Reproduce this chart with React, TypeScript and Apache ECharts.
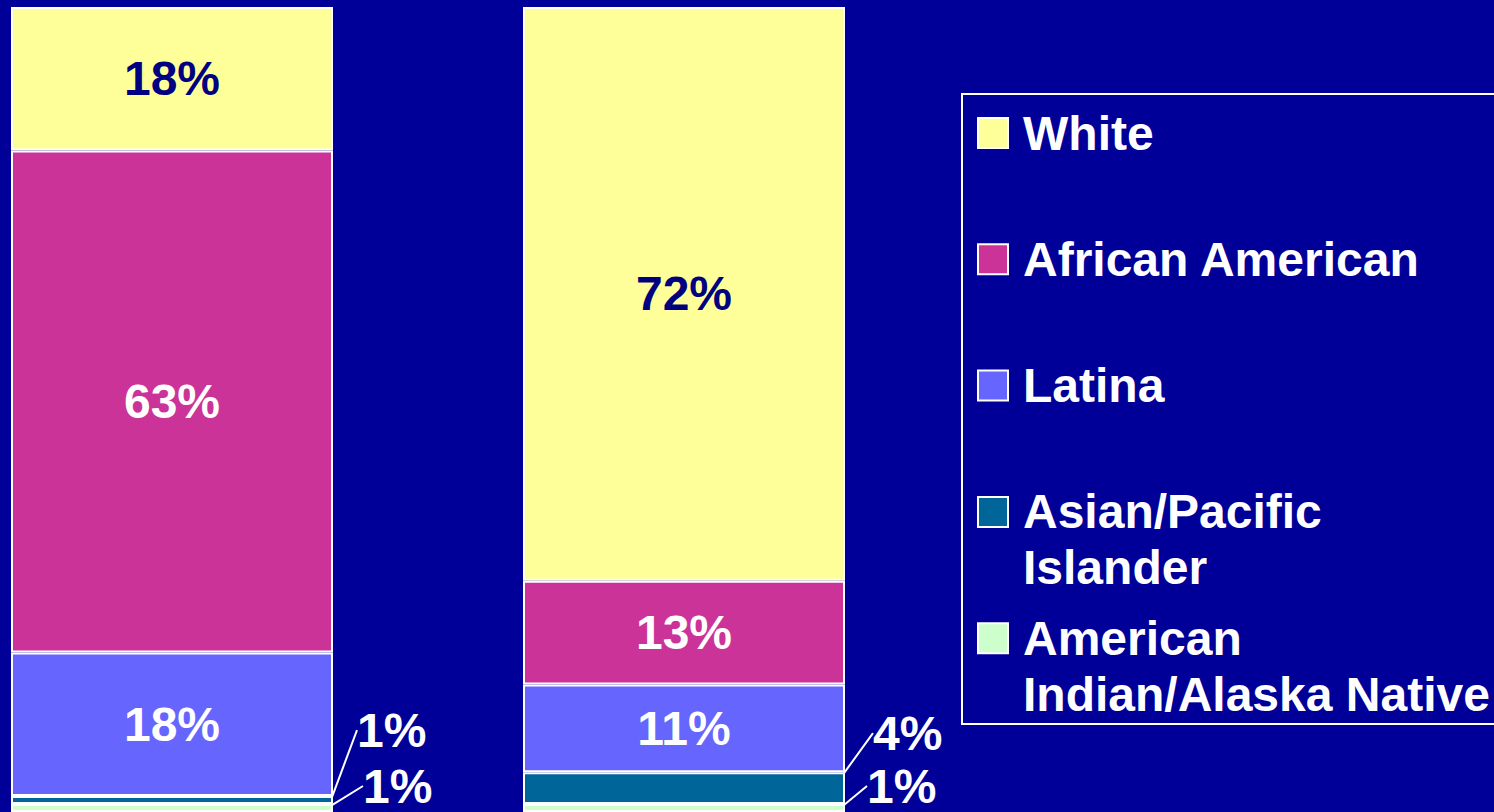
import React, { useEffect, useRef } from "react";
import * as echarts from "echarts";

const categories = ["Group A", "Group B"];
const seriesNames = [
  "American Indian/Alaska Native",
  "Asian/Pacific Islander",
  "Latina",
  "African American",
  "White",
];
const legendNames = [
  "White",
  "African American",
  "Latina",
  "Asian/Pacific\nIslander",
  "American\nIndian/Alaska Native",
];
const legendColors = ["#FFFF99", "#CC3399", "#6666FF", "#006699", "#CCFFCC"];
const aianValues = [1, 1];
const asianValues = [1, 4];
const latinaValues = [18, 11];
const africanAmericanValues = [63, 13];
const whiteValues = [18, 72];
const seriesColors = ["#CCFFCC", "#006699", "#6666FF", "#CC3399", "#FFFF99"];
const labelColors = ["#FFFFFF", "#FFFFFF", "#FFFFFF", "#FFFFFF", "#000080"];
const allValues = [aianValues, asianValues, latinaValues, africanAmericanValues, whiteValues];

// label offsets for the small, outside labels (per series index -> per data index)
const outsideOffsets: Record<number, { dx: number; dy: number }[]> = {
  0: [
    { dx: 26, dy: -22 },
    { dx: 18, dy: -22 },
  ],
  1: [
    { dx: 20, dy: -70 },
    { dx: 24, dy: -55 },
  ],
};

export default function App() {
  const ref = useRef<HTMLDivElement>(null);
  useEffect(() => {
    if (!ref.current) return;
    const chart = echarts.init(ref.current, undefined, { renderer: "svg" });
    const font = "'Liberation Sans', Arial, sans-serif";
    const series = seriesNames.map((name, i) => {
      const outside = i < 2;
      return {
        name,
        type: "bar",
        stack: "total",
        barWidth: 322,
        data: allValues[i],
        itemStyle: { color: seriesColors[i], borderColor: "#FFFFFF", borderWidth: 2 },
        label: {
          show: true,
          position: outside ? "right" : "inside",
          distance: 4,
          formatter: "{c}%",
          color: labelColors[i],
          fontSize: 48,
          lineHeight: 44,
          fontWeight: "bold",
          fontFamily: font,
        },
        labelLine: outside
          ? { show: true, lineStyle: { color: "#FFFFFF", width: 2 } }
          : { show: false },
        labelLayout: outside
          ? (p: any) => outsideOffsets[i][p.dataIndex]
          : undefined,
      };
    });

    const legendGraphics: any[] = [
      {
        type: "rect",
        shape: { x: 962, y: 94, width: 600, height: 630 },
        style: { fill: "transparent", stroke: "#FFFFFF", lineWidth: 2 },
        z: 10,
      },
    ];
    legendNames.forEach((n, i) => {
      const cy = 133 + i * 126.3;
      legendGraphics.push({
        type: "rect",
        shape: { x: 978, y: cy - 15, width: 30, height: 30 },
        style: { fill: legendColors[i], stroke: "#FFFFFF", lineWidth: 2 },
        z: 10,
      });
      legendGraphics.push({
        type: "text",
        x: 1023,
        y: cy - 28,
        style: {
          text: n,
          fill: "#FFFFFF",
          font: `bold 48px ${font}`,
          lineHeight: 56,
          verticalAlign: "top",
        },
        z: 10,
      });
    });

    chart.setOption({
      animation: false,
      backgroundColor: "#000099",
      grid: { left: 172, top: 7, width: 512, bottom: 0 },
      xAxis: {
        type: "category",
        data: categories,
        boundaryGap: false,
        show: false,
      },
      yAxis: { type: "value", min: 0, max: 101, show: false },
      series,
      graphic: legendGraphics,
    });
    return () => chart.dispose();
  }, []);
  return (
    <div
      ref={ref}
      style={{ position: "fixed", left: 0, top: 0, width: 1494, height: 812 }}
    />
  );
}
